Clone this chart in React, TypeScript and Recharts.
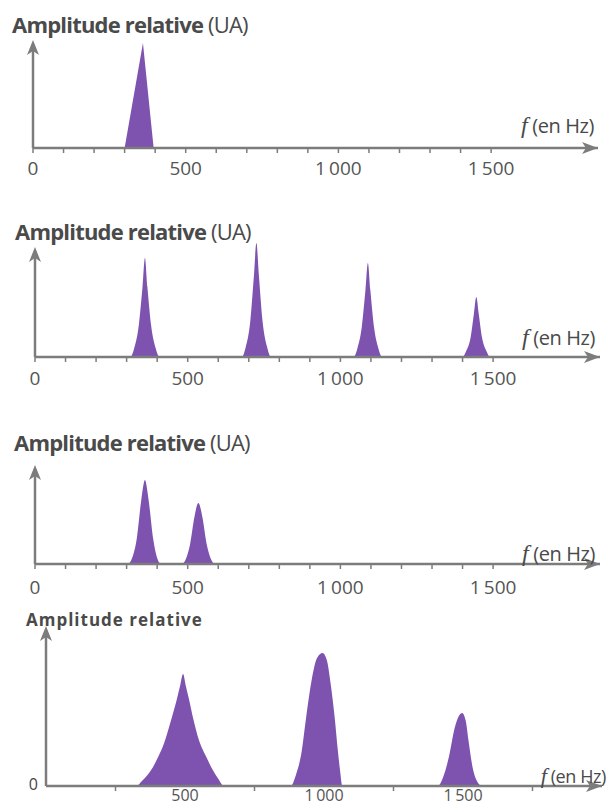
import React from 'react'
import { AreaChart, Area, XAxis, YAxis, ReferenceLine, ReferenceDot } from 'recharts'

// Spectre 1 : un seul pic
const freq1 = [0, 300, 360, 395, 1850]
const amp1 = [0, 0, 105, 0, 0]

// Spectre 2 : fondamental + harmoniques
const freq2 = [
  0,
  312, 325, 340, 352, 360, 368, 380, 395, 408,
  677, 690, 705, 717, 725, 733, 745, 760, 773,
  1043, 1056, 1070, 1082, 1090, 1098, 1110, 1124, 1137,
  1400, 1412, 1426, 1437, 1445, 1453, 1464, 1478, 1490,
  1850,
]
const amp2 = [
  0,
  0, 9, 32, 70, 99, 70, 32, 9, 0,
  0, 10, 36, 82, 114, 82, 36, 10, 0,
  0, 9, 30, 67, 94, 67, 30, 9, 0,
  0, 6, 19, 43, 60, 43, 19, 6, 0,
  0,
]

// Spectre 3 : deux pics
const freq3 = [
  0,
  303, 318, 333, 348, 360, 372, 387, 400, 413,
  480, 494, 508, 522, 535, 548, 562, 576, 590,
  1850,
]
const amp3 = [
  0,
  0, 6, 25, 64, 84, 64, 25, 6, 0,
  0, 5, 20, 47, 61, 47, 20, 5, 0,
  0,
]

// Spectre 4 : trois pics larges
const freq4 = [
  0,
  325, 345, 365, 385, 405, 425, 449, 470, 483, 493, 503, 515, 529, 550, 575, 600, 620, 640,
  880, 900, 920, 935, 955, 975, 995, 1010, 1025, 1039, 1050, 1058, 1066,
  1409, 1430, 1450, 1470, 1485, 1497, 1510, 1520, 1535, 1550, 1569,
  2000,
]
const amp4 = [
  0,
  0, 5, 11, 19, 30, 43, 65, 86, 101, 112, 100, 86, 68, 46, 30, 16, 7, 0,
  0, 12, 35, 67, 105, 128, 133, 126, 100, 67, 35, 15, 0,
  0, 10, 30, 58, 70, 73, 65, 45, 18, 5, 0,
  0,
]

const marks123 = [0, 100, 200, 300, 400, 500, 600, 700, 800, 900, 1000, 1100, 1200, 1300, 1400, 1500]
const labels123 = [0, 500, 1000, 1500]
const marks4 = [250, 750, 1250, 1750]
const labels4 = [500, 1000, 1500]

const PURPLE = '#7e53b0'
const GREY = '#7c7c7c'
const TEXT = '#555'

const fmt = (v: number) => (v >= 1000 ? `${Math.floor(v / 1000)}\u2009${String(v % 1000).padStart(3, '0')}` : String(v))

function Panel(props: any) {
  const { top, height, freq, amp, xMax, yMax, arrowY, yAxisX, tipX, baseline, marks, labels, labelDy, labelSize, curve, zero } = props
  const data = freq.map((f: number, i: number) => ({ f, a: amp[i] }))
  const ticks = Array.from(new Set([...marks, ...labels])).sort((a: any, b: any) => a - b)

  const renderTick = (p: any) => {
    const v = p.payload.value
    return (
      <g>
        {marks.includes(v) && <line x1={p.x} x2={p.x} y1={p.y} y2={p.y + 5} stroke={GREY} strokeWidth={1.5} />}
        {labels.includes(v) && (
          <text x={p.x} y={p.y + labelDy} textAnchor="middle" fill={TEXT} fontSize={labelSize} fontFamily="Open Sans">
            {fmt(v)}
          </text>
        )}
      </g>
    )
  }

  return (
    <div style={{ position: 'absolute', top, left: 0 }}>
      <AreaChart
        width={614}
        height={height}
        data={data}
        margin={{ top: baseline - yMax, right: 614 - tipX, bottom: 0, left: 0 }}
      >
        <XAxis
          dataKey="f"
          type="number"
          domain={[0, xMax]}
          ticks={ticks}
          interval={0}
          height={height - baseline}
          axisLine={{ stroke: GREY, strokeWidth: 2.5 }}
          tickLine={false}
          tickSize={0}
          tickMargin={0}
          tick={renderTick}
        />
        <YAxis
          type="number"
          domain={[0, yMax]}
          width={yAxisX}
          axisLine={false}
          tickLine={false}
          ticks={zero ? [0] : []}
          tick={zero ? { fill: '#444', fontSize: 16, fontFamily: 'Open Sans', dx: 0, dy: -2 } : false}
        />
        <Area
          type={curve}
          dataKey="a"
          stroke="none"
          fill={PURPLE}
          fillOpacity={1}
          dot={false}
          activeDot={false}
          isAnimationActive={false}
        />
        <ReferenceLine
          segment={[{ x: 0, y: 0 }, { x: 0, y: arrowY - 4 }]}
          stroke={GREY}
          strokeWidth={2.5}
          ifOverflow="visible"
        />
        <ReferenceDot
          x={0}
          y={arrowY}
          ifOverflow="visible"
          shape={(s: any) => <path d={`M${s.cx},${s.cy} l-6,15 l6,-4 l6,4 z`} fill={GREY} />}
        />
        <ReferenceDot
          x={xMax}
          y={0}
          ifOverflow="visible"
          shape={(s: any) => <path d={`M${s.cx},${s.cy} l-16,-6 l4,6 l-4,6 z`} fill={GREY} />}
        />
      </AreaChart>
    </div>
  )
}

function Title({ top, left, small }: { top: number; left: number; small?: boolean }) {
  if (small) {
    return (
      <div style={{ position: 'absolute', top, left, fontFamily: 'Open Sans', fontWeight: 700, fontSize: 17, letterSpacing: 1, color: '#4a4a4a', lineHeight: 1 }}>
        Amplitude relative
      </div>
    )
  }
  return (
    <div style={{ position: 'absolute', top, left, fontFamily: 'Open Sans', fontSize: 22, letterSpacing: -0.8, color: '#4a4a4a', lineHeight: 1, whiteSpace: 'nowrap' }}>
      <span style={{ fontWeight: 700 }}>Amplitude relative</span> (UA)
    </div>
  )
}

function FreqLabel({ top, right, size }: { top: number; right: number; size: number }) {
  return (
    <div style={{ position: 'absolute', top, right, fontFamily: 'Open Sans', fontSize: size, color: '#4a4a4a', lineHeight: 1, whiteSpace: 'nowrap', letterSpacing: -0.4 }}>
      <span style={{ fontFamily: 'Liberation Serif', fontStyle: 'italic', fontSize: size + 4 }}>f</span> (en Hz)
    </div>
  )
}

export default function App() {
  return (
    <div style={{ position: 'absolute', top: 0, left: 0, width: 614, height: 808, overflow: 'hidden', background: '#fff' }}>
      <Panel top={0} height={200} freq={freq1} amp={amp1} xMax={1850} yMax={112} arrowY={108} yAxisX={33} tipX={598}
        baseline={148} marks={marks123} labels={labels123} labelDy={27} labelSize={19} curve="linear" />
      <Panel top={200} height={200} freq={freq2} amp={amp2} xMax={1850} yMax={118} arrowY={110} yAxisX={35} tipX={600}
        baseline={157} marks={marks123} labels={labels123} labelDy={28} labelSize={19} curve="monotone" />
      <Panel top={400} height={200} freq={freq3} amp={amp3} xMax={1850} yMax={104} arrowY={99} yAxisX={35} tipX={600}
        baseline={164} marks={marks123} labels={labels123} labelDy={30} labelSize={19} curve="monotone" />
      <Panel top={600} height={208} freq={freq4} amp={amp4} xMax={2000} yMax={164} arrowY={160} yAxisX={46} tipX={602}
        baseline={186} marks={marks4} labels={labels4} labelDy={15} labelSize={16} curve="monotone" zero />

      <Title top={13} left={12} />
      <Title top={220} left={15} />
      <Title top={431} left={14} />
      <Title top={611} left={26} small />

      <FreqLabel top={113} right={20} size={20} />
      <FreqLabel top={325} right={19} size={20} />
      <FreqLabel top={541} right={19} size={20} />
      <FreqLabel top={765} right={8} size={18} />
    </div>
  )
}
